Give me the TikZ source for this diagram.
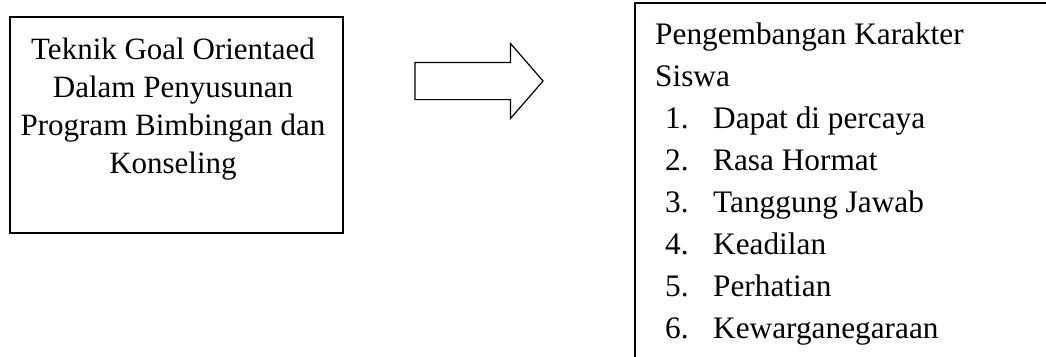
\documentclass[tikz,border=0pt]{standalone}
\usepackage{fontspec}
\setmainfont{Liberation Serif}
\usetikzlibrary{shapes.arrows}
\begin{document}
\begin{tikzpicture}[x=1pt,y=-1pt,
  frame/.style={draw, line width=1.5pt, rectangle, inner sep=0pt, outer sep=0pt, anchor=north west},
  goalfont/.style={inner sep=0pt, font=\fontsize{31}{38}\selectfont},
  listfont/.style={inner sep=0pt, font=\fontsize{31.3}{42}\selectfont},
  blockarrow/.style={draw, single arrow, line width=1.2pt, inner sep=0pt, outer sep=0pt,
    text height=36pt, text depth=0pt, text width=0pt,
    minimum height=128pt, single arrow head extend=19pt,
    single arrow tip angle=98},
  ]
\clip (0,0) rectangle (1046,356);
\fill[white] (0,0) rectangle (1046,356);

% left box with the technique; the text is placed by its last baseline
\node[frame, minimum width=333pt, minimum height=216pt] (goal) at (10,17) {};
\node[goalfont, align=center, anchor=base] (goaltext) at (173,173)
  {Teknik Goal Orientaed\\Dalam Penyusunan\\Program Bimbingan dan\\Konseling};

% block arrow
\node[blockarrow] (flow) at (471,81) {};

% right box with the character list (runs past the page edge)
\node[frame, minimum width=440pt, minimum height=380pt] (traitsbox) at (635,3) {};
\node[listfont, align=left, anchor=base west] (traits) at (655,338)
  {Pengembangan Karakter\\
   Siswa\\
   \hspace*{10pt}\makebox[48pt][l]{1.}Dapat di percaya\\
   \hspace*{10pt}\makebox[48pt][l]{2.}Rasa Hormat\\
   \hspace*{10pt}\makebox[48pt][l]{3.}Tanggung Jawab\\
   \hspace*{10pt}\makebox[48pt][l]{4.}Keadilan\\
   \hspace*{10pt}\makebox[48pt][l]{5.}Perhatian\\
   \hspace*{10pt}\makebox[48pt][l]{6.}Kewarganegaraan};
\end{tikzpicture}
\end{document}
